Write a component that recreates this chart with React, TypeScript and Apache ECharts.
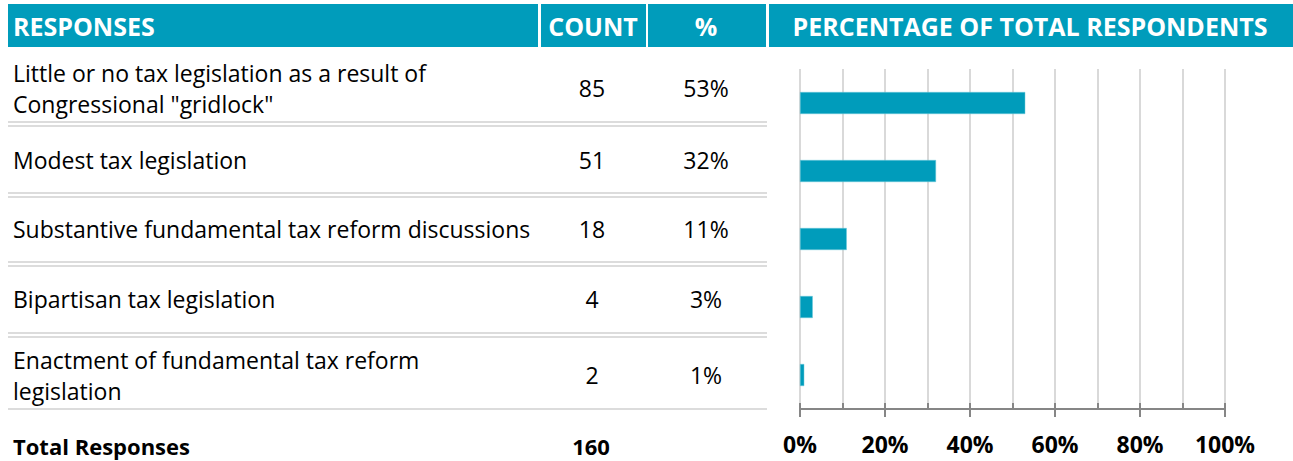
import React, { useEffect, useRef } from 'react';
import * as echarts from 'echarts';

const categories = [
  'Little or no tax legislation as a result of\nCongressional "gridlock"',
  'Modest tax legislation',
  'Substantive fundamental tax reform discussions',
  'Bipartisan tax legislation',
  'Enactment of fundamental tax reform\nlegislation',
];
const counts = [85, 51, 18, 4, 2];
const percents = [53, 32, 11, 3, 1];
const totalLabel = 'Total Responses';
const totalCount = 160;
const headers = ['RESPONSES', 'COUNT', '%', 'PERCENTAGE OF TOTAL RESPONDENTS'];

const TEAL = '#009cbb';
const FONT = 'Open Sans';
const rowCenters = [88, 160, 229, 299, 375];
const separators = [122, 193, 262, 333];

export default function App() {
  const ref = useRef<HTMLDivElement>(null);
  useEffect(() => {
    if (!ref.current) return;
    const chart = echarts.init(ref.current, undefined, { renderer: 'svg' });
    const graphic: any[] = [];
    const cells = [
      [8, 538],
      [541, 646],
      [648, 766],
      [769, 1293],
    ];
    cells.forEach(([a, b]) => {
      graphic.push({ type: 'rect', shape: { x: a, y: 4, width: b - a, height: 43 }, style: { fill: TEAL }, silent: true });
    });
    const headerPos = [
      { x: 13, align: 'left' },
      { x: 593, align: 'center' },
      { x: 706, align: 'center' },
      { x: 1030, align: 'center' },
    ];
    headers.forEach((h, i) => {
      graphic.push({
        type: 'text', x: headerPos[i].x, y: 26,
        style: { text: h, fill: '#fff', fontFamily: FONT, fontWeight: 'bold', fontSize: 25, align: headerPos[i].align, verticalAlign: 'middle' },
      });
    });
    separators.forEach((y) => {
      [y, y + 4].forEach((yy) => {
        graphic.push({ type: 'line', shape: { x1: 8, y1: yy, x2: 767, y2: yy }, style: { stroke: '#dcdcdc', lineWidth: 2 } });
      });
    });
    graphic.push({ type: 'line', shape: { x1: 8, y1: 409, x2: 767, y2: 409 }, style: { stroke: '#dcdcdc', lineWidth: 2 } });
    categories.forEach((c, i) => {
      graphic.push({
        type: 'text', x: 13, y: rowCenters[i],
        style: { text: c, fill: '#000', fontFamily: FONT, fontSize: 23, lineHeight: 31, align: 'left', verticalAlign: 'middle' },
      });
      graphic.push({
        type: 'text', x: 592, y: rowCenters[i],
        style: { text: String(counts[i]), fill: '#000', fontFamily: FONT, fontSize: 23, align: 'center', verticalAlign: 'middle' },
      });
      graphic.push({
        type: 'text', x: 706, y: rowCenters[i],
        style: { text: percents[i] + '%', fill: '#000', fontFamily: FONT, fontSize: 23, align: 'center', verticalAlign: 'middle' },
      });
    });
    graphic.push({
      type: 'text', x: 13, y: 446,
      style: { text: totalLabel, fill: '#000', fontFamily: FONT, fontWeight: 'bold', fontSize: 22, align: 'left', verticalAlign: 'middle' },
    });
    graphic.push({
      type: 'text', x: 591, y: 446,
      style: { text: String(totalCount), fill: '#000', fontFamily: FONT, fontWeight: 'bold', fontSize: 22, align: 'center', verticalAlign: 'middle' },
    });

    chart.setOption({
      animation: false,
      grid: { left: 800, width: 425, top: 69, height: 340 },
      xAxis: [
        {
          type: 'value', min: 0, max: 100, interval: 20,
          axisLine: { show: true, lineStyle: { color: '#868686', width: 2 } },
          axisTick: { show: true, length: 8, lineStyle: { color: '#868686', width: 2 } },
          splitLine: { show: false },
          axisLabel: { margin: 23, formatter: '{value}%', color: '#000', fontFamily: FONT, fontWeight: 'bold', fontSize: 23 },
        },
        {
          type: 'value', min: 0, max: 100, interval: 10, position: 'bottom',
          axisLine: { show: false },
          axisTick: { show: true, inside: true, length: 6, lineStyle: { color: '#868686', width: 2 } },
          splitLine: { show: true, lineStyle: { color: '#d9d9d9', width: 2 } },
          axisLabel: { show: false },
        },
      ],
      yAxis: {
        type: 'category', inverse: true, data: categories,
        axisLine: { show: false }, axisTick: { show: false }, axisLabel: { show: false },
      },
      series: [
        {
          type: 'bar', data: percents, xAxisIndex: 0, barWidth: 22,
          itemStyle: { color: TEAL, borderColor: '#6cc8da', borderWidth: 0.5 },
        },
      ],
      graphic,
    });
    return () => chart.dispose();
  }, []);
  return <div ref={ref} style={{ position: 'fixed', left: 0, top: 0, width: 1293, height: 461, background: '#fff' }} />;
}
